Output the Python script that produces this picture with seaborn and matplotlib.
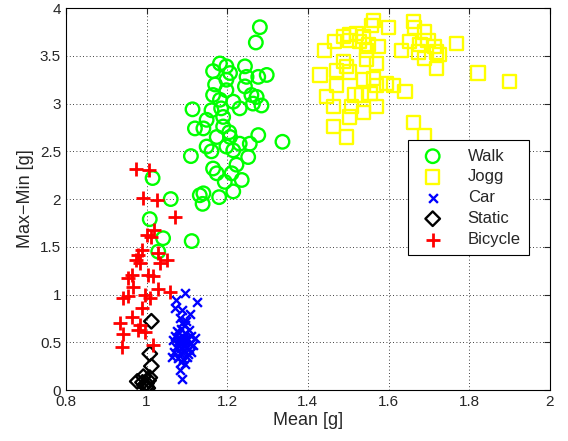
#Gráfico de dispersão: Max-Min x Mean para cada atividade
import numpy as np
import pandas as pd
from matplotlib import pyplot as plt
import seaborn as sb

# Dados
walk_x = [1.281, 1.271, 1.165, 1.182, 1.198, 1.207, 1.244, 1.248, 1.277, 1.298,
          1.198, 1.244, 1.165, 1.198, 1.182, 1.215, 1.231, 1.260, 1.273, 1.264,
          1.285, 1.114, 1.161, 1.149, 1.190, 1.120, 1.141, 1.190, 1.174, 1.207,
          1.277, 1.337, 1.256, 1.231, 1.149, 1.161, 1.198, 1.215, 1.110, 1.252,
          1.223, 1.165, 1.174, 1.211, 1.236, 1.194, 1.215, 1.180, 1.141, 1.132,
          1.139, 1.015, 1.060, 1.008, 1.112, 1.041, 1.029, 1.185, 1.205, 1.170]
walk_y = [3.80, 3.64, 3.34, 3.42, 3.39, 3.32, 3.39, 3.28, 3.28, 3.30,
          3.25, 3.18, 3.09, 3.14, 3.04, 3.02, 2.95, 3.09, 3.07, 3.00,
          2.98, 2.94, 2.93, 2.83, 2.86, 2.74, 2.74, 2.76, 2.65, 2.65,
          2.67, 2.60, 2.58, 2.58, 2.55, 2.50, 2.55, 2.51, 2.45, 2.44,
          2.36, 2.32, 2.27, 2.27, 2.20, 2.18, 2.08, 2.02, 2.06, 2.04,
          1.95, 2.22, 2.00, 1.79, 1.56, 1.59, 1.45, 2.95, 2.70, 3.20]

jogg_x = [1.562, 1.558, 1.599, 1.661, 1.665, 1.690, 1.467, 1.488, 1.504, 1.521,
          1.537, 1.504, 1.529, 1.550, 1.574, 1.442, 1.546, 1.632, 1.653, 1.678,
          1.698, 1.715, 1.674, 1.719, 1.727, 1.769, 1.690, 1.719, 1.570, 1.546,
          1.488, 1.471, 1.496, 1.504, 1.430, 1.822, 1.901, 1.537, 1.562, 1.570,
          1.595, 1.612, 1.641, 1.471, 1.517, 1.533, 1.554, 1.446, 1.463, 1.508,
          1.570, 1.537, 1.504, 1.463, 1.496, 1.661, 1.690]
jogg_y = [3.87, 3.82, 3.80, 3.86, 3.80, 3.75, 3.65, 3.70, 3.72, 3.73,
          3.70, 3.66, 3.65, 3.62, 3.60, 3.56, 3.56, 3.56, 3.65, 3.62,
          3.66, 3.60, 3.54, 3.54, 3.51, 3.63, 3.47, 3.37, 3.42, 3.46,
          3.44, 3.35, 3.39, 3.33, 3.30, 3.32, 3.23, 3.25, 3.26, 3.19,
          3.21, 3.19, 3.13, 3.19, 3.09, 3.09, 3.11, 3.07, 2.97, 2.97,
          2.97, 2.91, 2.86, 2.76, 2.65, 2.80, 2.67]

car_x = [1.095, 1.074, 1.124, 1.070, 1.087, 1.107, 1.083, 1.099, 1.087, 1.083,
         1.062, 1.120, 1.075, 1.085, 1.095, 1.105, 1.070, 1.080, 1.090, 1.100,
         1.110, 1.065, 1.078, 1.088, 1.098, 1.108, 1.072, 1.085, 1.095, 1.105,
         1.115, 1.068, 1.082, 1.092, 1.102, 1.078, 1.090, 1.100, 1.085, 1.095,
         1.080, 1.090, 1.100, 1.110, 1.088, 1.095]
car_y = [1.02, 0.94, 0.92, 0.86, 0.84, 0.80, 0.75, 0.72, 0.12, 0.21,
         0.35, 0.54, 0.62, 0.64, 0.60, 0.63, 0.57, 0.55, 0.56, 0.54,
         0.57, 0.52, 0.50, 0.49, 0.51, 0.48, 0.45, 0.44, 0.46, 0.43,
         0.47, 0.40, 0.39, 0.41, 0.38, 0.34, 0.33, 0.35, 0.29, 0.27,
         0.60, 0.52, 0.45, 0.40, 0.70, 0.68]

static_x = [1.012, 1.008, 1.012, 0.977, 0.992, 1.000, 1.000, 1.005, 0.995, 1.008, 1.003, 0.990]
static_y = [0.72, 0.38, 0.25, 0.09, 0.14, 0.07, 0.035, 0.10, 0.05, 0.13, 0.02, 0.08]

bike_x = [0.974, 1.007, 0.992, 1.025, 1.070, 1.019, 1.000, 1.012, 0.988, 0.979,
          0.975, 0.984, 1.029, 1.050, 1.033, 0.963, 0.954, 1.004, 1.017, 0.967,
          1.029, 1.058, 0.942, 0.954, 0.996, 1.008, 0.988, 0.963, 0.934, 0.983,
          0.996, 0.942, 0.938, 1.017, 0.979]
bike_y = [2.32, 2.30, 2.01, 1.99, 1.81, 1.68, 1.62, 1.60, 1.47, 1.41,
          1.36, 1.33, 1.43, 1.36, 1.33, 1.20, 1.17, 1.20, 1.19, 1.08,
          1.06, 1.03, 0.96, 0.98, 0.99, 0.96, 0.86, 0.77, 0.70, 0.68,
          0.61, 0.59, 0.45, 0.47, 0.63]

sb.set_style('white')
plt.rcParams['font.family'] = ['Liberation Sans', 'DejaVu Sans']

fig = plt.figure(figsize=(5.68, 4.41), dpi=100)
ax = fig.add_axes([0.116, 0.1156, 0.852, 0.866])

# Marcadores vazados (círculo, quadrado, losango)
sb.scatterplot(x=walk_x, y=walk_y, marker='o', s=95, facecolors='none',
               edgecolor='#00ff00', linewidth=1.7, label='Walk', ax=ax, zorder=3)
sb.scatterplot(x=jogg_x, y=jogg_y, marker='s', s=90, facecolors='none',
               edgecolor='#ffff00', linewidth=1.7, label='Jogg', ax=ax, zorder=3)
sb.scatterplot(x=car_x, y=car_y, marker='x', s=40, color='#0000ff',
               linewidth=1.7, label='Car', ax=ax, zorder=3)
sb.scatterplot(x=static_x, y=static_y, marker='D', s=55, facecolors='none',
               edgecolor='black', linewidth=1.7, label='Static', ax=ax, zorder=3)
sb.scatterplot(x=bike_x, y=bike_y, marker='+', s=90, color='#ff0000',
               linewidth=2.0, label='Bicycle', ax=ax, zorder=3)

ax.set_xlim(0.8, 2)
ax.set_ylim(0, 4)
ax.set_xticks(np.arange(0.8, 2.01, 0.2))
ax.set_xticklabels(['0.8', '1', '1.2', '1.4', '1.6', '1.8', '2'])
ax.set_yticks(np.arange(0, 4.01, 0.5))
ax.set_yticklabels(['0', '0.5', '1', '1.5', '2', '2.5', '3', '3.5', '4'])
ax.grid(True, linestyle=(0, (1, 3)), color='black', linewidth=0.6)
ax.tick_params(direction='in', top=True, right=True, length=4, labelsize=11)
for s in ax.spines.values():
    s.set_color('black')
    s.set_linewidth(0.8)
ax.set_xlabel('Mean [g]', fontsize=13, labelpad=2)
ax.set_ylabel('Max\u2212Min [g]', fontsize=13, labelpad=4)

leg = ax.legend(loc='upper right', bbox_to_anchor=(0.957, 0.654), fontsize=12,
                frameon=True, fancybox=False, edgecolor='black', framealpha=1,
                borderpad=0.5, labelspacing=0.35, handletextpad=1.1,
                borderaxespad=0)
leg.get_frame().set_linewidth(0.8)

plt.savefig('out.png', dpi=100)
plt.close()
